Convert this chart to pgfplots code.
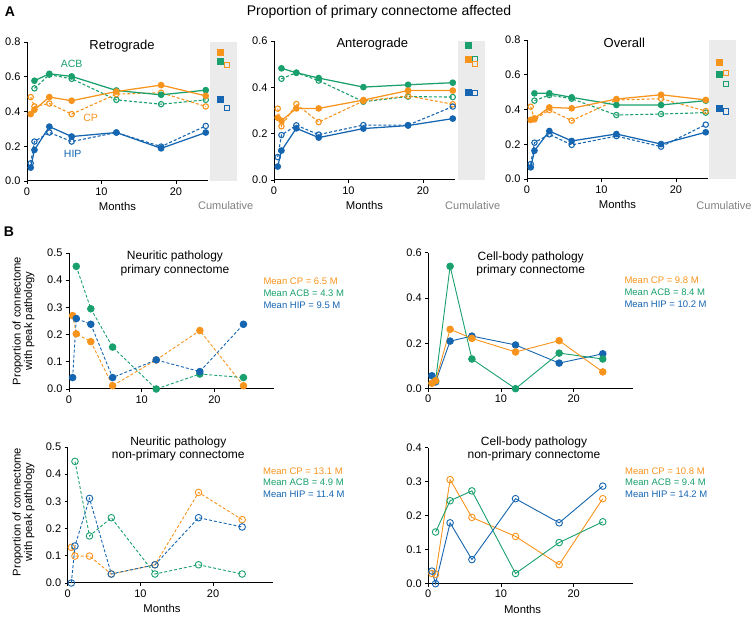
\documentclass[border=0pt]{standalone}
\usepackage{pgfplots}
\pgfplotsset{compat=1.18}
\usepackage{fontspec}
\setmainfont{Liberation Sans}
\definecolor{cor}{HTML}{F7941D}
\definecolor{cgr}{HTML}{1AA06D}
\definecolor{cbl}{HTML}{1565B0}
\definecolor{cbg}{HTML}{EBEBEB}
\pgfplotsset{
  base/.style={scale only axis, axis lines=left, axis line style={line width=1pt,-},
    tick align=outside, major tick length=3pt, tick style={black,line width=0.8pt},
    xmin=0, ymin=0, xtick={0,10,20}, clip=false,
    /pgf/number format/assume math mode=true,
    yticklabel style={/pgf/number format/fixed,/pgf/number format/fixed zerofill,/pgf/number format/precision=1},
    tick label style={font=\fontsize{11}{13}\selectfont},
    label style={font=\fontsize{11.3}{13}\selectfont},
    anchor=south west},
  Aax/.style={base, width=181pt, height=139pt, xmax=24.3, ytick distance=0.2,
    xlabel={Months}},
  Bax/.style={base, width=205pt, height=136pt, xmax=28.2},
  cum/.style={scale only axis, anchor=south west, width=27pt, height=139pt, xmin=0, xmax=1, ymin=0,
    axis line style={draw=none}, ticks=none, axis background/.style={fill=cbg}, clip=false},
  sA/.style={line width=1.25pt, mark=*, mark size=2.7pt},
  dA/.style={line width=1.1pt, dash pattern=on 3pt off 2pt, mark=o, mark size=2.7pt, mark options={solid, fill=white, line width=1.1pt}},
  fq/.style={only marks, mark=square*, mark size=3pt},
  oq/.style={only marks, mark=square, mark size=2.6pt, mark options={fill=white, line width=1pt}},
  sB/.style={line width=0.9pt, mark=*, mark size=3.3pt},
  dBf/.style={line width=0.9pt, dash pattern=on 3pt off 2pt, mark=*, mark size=3.3pt, mark options={solid}},
  dBo/.style={line width=0.9pt, dash pattern=on 3pt off 2pt, mark=o, mark size=3.3pt, mark options={solid}},
  sBo/.style={line width=0.9pt, mark=o, mark size=3.3pt},
}
\begin{document}
\begin{tikzpicture}
\path[use as bounding box] (0,0) rectangle (756pt,618pt);
\node[font=\bfseries\fontsize{14}{16}\selectfont] at (10pt,606pt) {A};
\node[font=\bfseries\fontsize{14}{16}\selectfont] at (9pt,386pt) {B};
\node[font=\fontsize{14}{16}\selectfont] at (379pt,606pt) {Proportion of primary connectome affected};

% ---------- Retrograde ----------
\begin{axis}[Aax, at={(27pt,437pt)}, ymax=0.8]
\addplot[dA, cgr] coordinates {(1,0.533)(3,0.612)(6,0.588)(12,0.467)(18,0.442)(24,0.467)};
\addplot[dA, cor] coordinates {(0.5,0.483)(1,0.429)(3,0.446)(6,0.385)(12,0.5)(18,0.508)(24,0.429)};
\addplot[dA, cbl] coordinates {(0.5,0.102)(1,0.227)(3,0.279)(6,0.227)(12,0.279)(18,0.198)(24,0.317)};
\addplot[sA, cgr] coordinates {(1,0.577)(3,0.617)(6,0.602)(12,0.521)(18,0.496)(24,0.523)};
\addplot[sA, cor] coordinates {(0.5,0.385)(1,0.41)(3,0.483)(6,0.462)(12,0.515)(18,0.552)(24,0.49)};
\addplot[sA, cbl] coordinates {(0.5,0.077)(1,0.179)(3,0.313)(6,0.256)(12,0.279)(18,0.188)(24,0.279)};
\end{axis}
\begin{axis}[cum, at={(210pt,437pt)}, ymax=0.8]
\addplot[oq, cgr] coordinates {(0.64,0.669)};
\addplot[oq, cor] coordinates {(0.64,0.669)};
\addplot[oq, cbl] coordinates {(0.64,0.419)};
\addplot[fq, cor] coordinates {(0.36,0.740)};
\addplot[fq, cgr] coordinates {(0.36,0.692)};
\addplot[fq, cbl] coordinates {(0.36,0.471)};
\end{axis}
\node[font=\fontsize{13}{15}\selectfont] at (122pt,572pt) {Retrograde};
\node[text=cgr, font=\fontsize{10.5}{12}\selectfont] at (71.7pt,553.7pt) {ACB};
\node[text=cor, font=\fontsize{10.5}{12}\selectfont] at (90.7pt,499.7pt) {CP};
\node[text=cbl, font=\fontsize{10.5}{12}\selectfont] at (72.7pt,464pt) {HIP};
\node[text=gray, font=\fontsize{11}{13}\selectfont] at (225.7pt,412pt) {Cumulative};

% ---------- Anterograde ----------
\begin{axis}[Aax, at={(274pt,438pt)}, ymax=0.6]
\addplot[dA, cgr] coordinates {(1,0.437)(3,0.463)(6,0.429)(12,0.338)(18,0.36)(24,0.358)};
\addplot[dA, cor] coordinates {(0.5,0.308)(1,0.232)(3,0.328)(6,0.25)(12,0.341)(18,0.363)(24,0.327)};
\addplot[dA, cbl] coordinates {(0.5,0.099)(1,0.194)(3,0.236)(6,0.196)(12,0.237)(18,0.237)(24,0.317)};
\addplot[sA, cgr] coordinates {(1,0.482)(3,0.463)(6,0.44)(12,0.401)(18,0.411)(24,0.42)};
\addplot[sA, cor] coordinates {(0.5,0.269)(1,0.256)(3,0.309)(6,0.309)(12,0.345)(18,0.386)(24,0.386)};
\addplot[sA, cbl] coordinates {(0.5,0.058)(1,0.127)(3,0.223)(6,0.183)(12,0.222)(18,0.235)(24,0.265)};
\end{axis}
\begin{axis}[cum, at={(458pt,438pt)}, ymax=0.6]
\addplot[oq, cgr] coordinates {(0.64,0.521)};
\addplot[oq, cor] coordinates {(0.64,0.499)};
\addplot[oq, cbl] coordinates {(0.64,0.377)};
\addplot[fq, cgr] coordinates {(0.36,0.583)};
\addplot[fq, cor] coordinates {(0.36,0.521)};
\addplot[fq, cbl] coordinates {(0.36,0.377)};
\end{axis}
\node[font=\fontsize{13}{15}\selectfont] at (372.3pt,573.7pt) {Anterograde};
\node[text=gray, font=\fontsize{11}{13}\selectfont] at (472.7pt,412pt) {Cumulative};

% ---------- Overall ----------
\begin{axis}[Aax, at={(527pt,439pt)}, ymax=0.8]
\addplot[dA, cgr] coordinates {(1,0.451)(3,0.483)(6,0.462)(12,0.368)(18,0.374)(24,0.382)};
\addplot[dA, cor] coordinates {(0.5,0.416)(1,0.343)(3,0.397)(6,0.336)(12,0.455)(18,0.462)(24,0.391)};
\addplot[dA, cbl] coordinates {(0.5,0.086)(1,0.209)(3,0.257)(6,0.196)(12,0.247)(18,0.186)(24,0.313)};
\addplot[sA, cgr] coordinates {(1,0.493)(3,0.493)(6,0.47)(12,0.426)(18,0.426)(24,0.451)};
\addplot[sA, cor] coordinates {(0.5,0.34)(1,0.349)(3,0.412)(6,0.407)(12,0.46)(18,0.485)(24,0.455)};
\addplot[sA, cbl] coordinates {(0.5,0.067)(1,0.163)(3,0.276)(6,0.219)(12,0.259)(18,0.201)(24,0.269)};
\end{axis}
\begin{axis}[cum, at={(709pt,439pt)}, ymax=0.8]
\addplot[oq, cor] coordinates {(0.64,0.612)};
\addplot[oq, cgr] coordinates {(0.64,0.545)};
\addplot[oq, cbl] coordinates {(0.64,0.389)};
\addplot[fq, cor] coordinates {(0.36,0.67)};
\addplot[fq, cgr] coordinates {(0.36,0.604)};
\addplot[fq, cbl] coordinates {(0.36,0.405)};
\end{axis}
\node[font=\fontsize{13}{15}\selectfont] at (624.3pt,574.7pt) {Overall};
\node[text=gray, font=\fontsize{11}{13}\selectfont] at (724pt,412pt) {Cumulative};

% ---------- B top-left ----------
\begin{axis}[Bax, at={(69pt,229pt)}, ymax=0.5, ytick distance=0.1]
\addplot[dBf, cor] coordinates {(0.5,0.27)(1,0.203)(3,0.174)(6,0.012)(12,0.107)(18,0.215)(24,0.012)};
\addplot[dBf, cgr] coordinates {(1,0.451)(3,0.295)(6,0.154)(12,0)(18,0.055)(24,0.042)};
\addplot[dBf, cbl] coordinates {(0.5,0.042)(1,0.259)(3,0.238)(6,0.042)(12,0.107)(18,0.064)(24,0.238)};
\end{axis}
\node[align=center, font=\fontsize{12}{13.5}\selectfont] at (175pt,354.5pt) {Neuritic pathology\\primary connectome};
\node[rotate=90, align=center, font=\fontsize{11.2}{11.5}\selectfont] at (23.5pt,297pt) {Proportion of connectome\\with peak pathology};
\node[anchor=west, text=cor, font=\fontsize{9.5}{11}\selectfont] at (260pt,337pt) {Mean CP = 6.5 M};
\node[anchor=west, text=cgr, font=\fontsize{9.5}{11}\selectfont] at (260pt,325pt) {Mean ACB = 4.3 M};
\node[anchor=west, text=cbl, font=\fontsize{9.5}{11}\selectfont] at (260pt,313pt) {Mean HIP = 9.5 M};

% ---------- B top-right ----------
\begin{axis}[Bax, at={(428.3pt,229.3pt)}, ymax=0.6, ytick distance=0.2]
\addplot[sB, cbl] coordinates {(0.5,0.057)(1,0.03)(3,0.21)(6,0.232)(12,0.193)(18,0.113)(24,0.154)};
\addplot[sB, cgr] coordinates {(1,0.035)(3,0.54)(6,0.131)(12,0)(18,0.157)(24,0.131)};
\addplot[sB, cor] coordinates {(0.5,0.024)(1,0.035)(3,0.262)(6,0.222)(12,0.162)(18,0.212)(24,0.074)};
\end{axis}
\node[align=center, font=\fontsize{12}{13.5}\selectfont] at (530.7pt,354.3pt) {Cell-body pathology\\primary connectome};
\node[anchor=west, text=cor, font=\fontsize{9.5}{11}\selectfont] at (621pt,337.3pt) {Mean CP = 9.8 M};
\node[anchor=west, text=cgr, font=\fontsize{9.5}{11}\selectfont] at (621pt,325.3pt) {Mean ACB = 8.4 M};
\node[anchor=west, text=cbl, font=\fontsize{9.5}{11}\selectfont] at (621pt,313.3pt) {Mean HIP = 10.2 M};

% ---------- B bottom-left ----------
\begin{axis}[Bax, at={(67.7pt,35pt)}, ymax=0.5, ytick distance=0.1, xlabel={Months},
  xlabel style={at={(ticklabel cs:0.46)}}]
\addplot[dBo, cor] coordinates {(0.5,0.131)(1,0.099)(3,0.099)(6,0.033)(12,0.067)(18,0.333)(24,0.233)};
\addplot[dBo, cgr] coordinates {(1,0.447)(3,0.173)(6,0.24)(12,0.033)(18,0.067)(24,0.033)};
\addplot[dBo, cbl] coordinates {(0.5,0)(1,0.136)(3,0.311)(6,0.033)(12,0.067)(18,0.24)(24,0.206)};
\end{axis}
\node[align=center, font=\fontsize{12}{13.5}\selectfont] at (178.3pt,169pt) {Neuritic pathology\\non-primary connectome};
\node[rotate=90, align=center, font=\fontsize{11.2}{11.5}\selectfont] at (23.5pt,106pt) {Proportion of connectome\\with peak pathology};
\node[anchor=west, text=cor, font=\fontsize{9.5}{11}\selectfont] at (259.7pt,147pt) {Mean CP = 13.1 M};
\node[anchor=west, text=cgr, font=\fontsize{9.5}{11}\selectfont] at (259.7pt,135.3pt) {Mean ACB = 4.9 M};
\node[anchor=west, text=cbl, font=\fontsize{9.5}{11}\selectfont] at (259.7pt,123.7pt) {Mean HIP = 11.4 M};

% ---------- B bottom-right ----------
\begin{axis}[Bax, at={(428.3pt,34.3pt)}, ymax=0.4, ytick distance=0.1, xlabel={Months},
  xlabel style={at={(ticklabel cs:0.46)}}]
\addplot[sBo, cor] coordinates {(0.5,0.03)(1,0.028)(3,0.306)(6,0.195)(12,0.139)(18,0.056)(24,0.25)};
\addplot[sBo, cgr] coordinates {(1,0.152)(3,0.244)(6,0.273)(12,0.03)(18,0.121)(24,0.182)};
\addplot[sBo, cbl] coordinates {(0.5,0.037)(1,0)(3,0.179)(6,0.071)(12,0.25)(18,0.179)(24,0.287)};
\end{axis}
\node[align=center, font=\fontsize{12}{13.5}\selectfont] at (534pt,169pt) {Cell-body pathology\\non-primary connectome};
\node[anchor=west, text=cor, font=\fontsize{9.5}{11}\selectfont] at (621.7pt,147pt) {Mean CP = 10.8 M};
\node[anchor=west, text=cgr, font=\fontsize{9.5}{11}\selectfont] at (621.7pt,135.3pt) {Mean ACB = 9.4 M};
\node[anchor=west, text=cbl, font=\fontsize{9.5}{11}\selectfont] at (621.7pt,123.7pt) {Mean HIP = 14.2 M};
\end{tikzpicture}
\end{document}
